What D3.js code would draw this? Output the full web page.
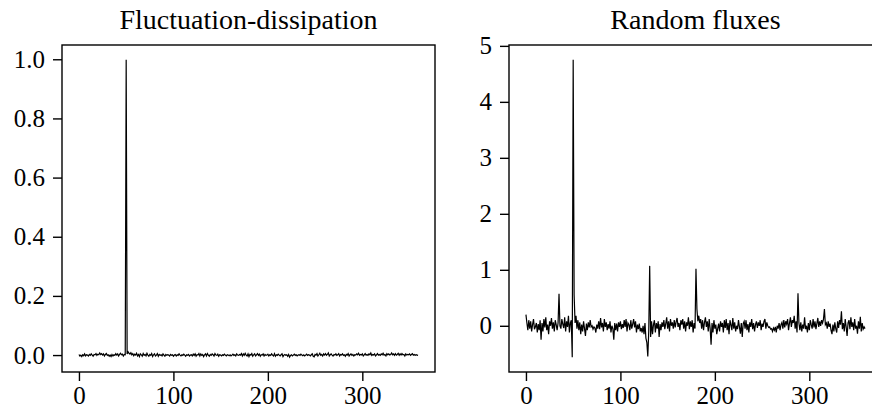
<!DOCTYPE html>
<html>
<head>
<meta charset="utf-8">
<script src="https://cdn.jsdelivr.net/npm/d3@7"></script>
<style>
  html, body { margin: 0; padding: 0; background: #fff; overflow: hidden; }
  svg { display: block; }
  text { font-family: "Liberation Serif", "DejaVu Serif", serif; fill: #000; }
</style>
</head>
<body>
<div id="chart"></div>
<script>
// fluctuation-dissipation response, one value per step (0..359)
var fdValues = [
  0.002, -0.003, 0.000, -0.005, 0.001, -0.002, 0.004, -0.003, 0.001, 0.000,
  -0.003, 0.002, -0.001, 0.004, 0.000, -0.004, 0.002, 0.001, 0.005, -0.001,
  0.003, 0.001, 0.007, 0.002, 0.005, 0.000, 0.004, -0.003, 0.002, 0.005,
  -0.001, 0.001, -0.004, 0.000, -0.005, 0.002, -0.003, 0.001, -0.001, 0.005,
  0.000, 0.004, -0.003, 0.002, 0.006, 0.001, 0.003, -0.003, 0.002, 0.001,
  0.998, 0.004, 0.011, 0.006, 0.003, 0.008, 0.001, 0.005, -0.002, 0.003,
  0.000, 0.006, -0.003, 0.002, -0.005, 0.004, 0.001, -0.004, 0.005, -0.001,
  0.002, -0.003, 0.006, 0.000, -0.004, 0.002, -0.001, 0.005, -0.005, 0.001,
  0.004, -0.003, 0.000, 0.005, -0.004, 0.002, -0.001, 0.001, -0.003, 0.004,
  0.000, -0.004, 0.002, -0.001, 0.001, 0.000, -0.003, 0.002, -0.001, 0.001,
  -0.004, 0.000, 0.002, -0.003, 0.001, -0.001, 0.004, 0.000, -0.003, 0.001,
  -0.001, 0.003, 0.000, -0.004, 0.001, -0.001, 0.002, -0.003, 0.000, 0.001,
  -0.003, 0.003, -0.001, 0.004, -0.004, 0.001, 0.000, 0.005, -0.003, 0.004,
  -0.001, 0.002, -0.005, 0.001, 0.004, -0.003, 0.005, 0.000, -0.004, 0.002,
  -0.001, 0.004, 0.001, -0.003, 0.005, 0.000, -0.001, 0.003, -0.004, 0.001,
  0.000, -0.003, 0.001, -0.001, 0.003, 0.000, -0.003, 0.001, 0.000, -0.002,
  0.001, -0.003, 0.000, 0.003, -0.001, 0.001, -0.003, 0.004, 0.000, -0.001,
  0.002, 0.000, 0.005, -0.003, 0.004, -0.001, 0.006, 0.000, -0.003, 0.004,
  -0.005, 0.002, 0.000, 0.005, -0.004, 0.001, 0.004, -0.003, 0.001, 0.005,
  -0.001, 0.003, -0.004, 0.001, 0.000, 0.004, -0.003, 0.002, -0.001, 0.000,
  0.003, -0.003, 0.001, -0.001, 0.004, 0.000, -0.003, 0.005, -0.004, 0.001,
  -0.001, 0.003, 0.000, -0.003, 0.001, 0.004, -0.005, 0.000, 0.002, -0.001,
  0.001, -0.004, 0.002, -0.007, -0.001, 0.001, -0.003, 0.000, 0.003, -0.001,
  0.001, -0.003, 0.000, 0.001, -0.001, 0.003, 0.000, -0.002, 0.001, -0.003,
  0.000, 0.003, -0.001, 0.001, 0.000, -0.003, 0.001, 0.004, -0.004, -0.006,
  0.002, 0.000, 0.005, -0.003, 0.001, 0.006, -0.001, 0.002, -0.003, 0.004,
  0.000, 0.005, -0.001, 0.002, 0.007, -0.003, 0.001, 0.004, 0.000, -0.003,
  0.002, 0.000, 0.004, -0.001, 0.001, 0.005, -0.003, 0.002, 0.000, 0.004,
  -0.001, 0.001, -0.004, 0.002, 0.000, 0.005, -0.003, 0.001, 0.004, -0.001,
  0.002, -0.003, 0.001, 0.000, 0.004, 0.001, 0.006, -0.001, 0.002, 0.000,
  0.004, -0.003, 0.001, 0.005, 0.000, 0.002, -0.001, 0.004, 0.001, 0.007,
  -0.001, 0.002, 0.000, 0.004, -0.003, 0.001, 0.005, 0.000, 0.002, -0.001,
  0.004, 0.001, 0.006, 0.000, 0.002, -0.003, 0.005, 0.001, 0.004, 0.000,
  0.002, 0.007, 0.001, 0.004, -0.001, 0.005, 0.000, 0.002, 0.006, -0.001,
  0.004, 0.000, 0.005, 0.001, 0.002, -0.003, 0.004, 0.000, 0.002, 0.001,
  0.004, -0.001, 0.002, 0.005, 0.000, 0.002, -0.001, 0.001, 0.000, -0.001
];

// random fluxes response, same steps
var rfValues = [
  0.20, 0.05, -0.08, 0.10, -0.05, 0.08, -0.10, 0.02, 0.12, -0.06,
  -0.02, 0.05, -0.12, 0.03, -0.08, 0.10, -0.25, 0.05, -0.10, 0.12,
  -0.03, 0.15, -0.08, 0.02, -0.15, 0.08, 0.00, 0.14, -0.05, 0.06,
  -0.10, 0.10, 0.02, -0.08, 0.05, 0.57, 0.00, -0.05, 0.12, 0.03,
  -0.04, 0.15, -0.10, 0.08, -0.02, 0.18, -0.12, 0.05, 0.10, -0.56,
  4.75, 0.55, 0.05, 0.18, -0.05, 0.10, -0.08, 0.06, -0.15, 0.02,
  -0.10, 0.08, -0.05, -0.18, 0.04, -0.08, 0.06, -0.03, 0.10, -0.02,
  0.00, -0.06, -0.02, -0.04, -0.12, 0.02, -0.05, 0.08, -0.06, 0.14,
  -0.03, 0.05, -0.10, 0.12, -0.02, 0.06, -0.08, 0.03, -0.05, 0.08,
  -0.12, 0.00, -0.05, -0.25, 0.05, -0.08, 0.04, -0.10, 0.06, -0.02,
  0.08, -0.06, 0.03, -0.04, 0.10, -0.02, 0.12, -0.10, 0.05, 0.02,
  -0.08, 0.10, -0.05, 0.03, 0.12, -0.03, 0.08, -0.12, 0.02, -0.06,
  0.04, -0.10, -0.04, -0.12, 0.00, -0.15, 0.05, -0.22, -0.30, -0.55,
  -0.10, 1.07, -0.20, 0.08, -0.15, 0.02, 0.10, -0.12, 0.05, -0.05,
  0.08, -0.20, 0.03, -0.08, 0.06, -0.02, 0.10, -0.06, 0.04, 0.15,
  -0.05, 0.08, -0.10, 0.12, 0.00, 0.06, -0.05, 0.10, -0.03, 0.07,
  0.14, -0.02, 0.05, -0.08, 0.10, 0.02, 0.12, -0.05, 0.08, -0.10,
  0.06, 0.00, 0.15, -0.06, 0.08, -0.02, 0.10, -0.12, 0.05, -0.05,
  1.02, 0.30, 0.08, 0.18, 0.05, 0.12, -0.05, 0.10, -0.08, 0.06,
  0.15, -0.02, 0.08, -0.10, 0.12, -0.05, -0.34, 0.05, -0.12, 0.10,
  -0.05, 0.02, -0.15, -0.05, 0.04, -0.10, 0.08, -0.02, 0.05, -0.12,
  0.10, -0.04, 0.12, -0.08, 0.05, -0.15, 0.10, 0.02, -0.08, 0.14,
  -0.05, 0.06, -0.10, 0.00, -0.06, 0.10, -0.02, -0.14, 0.05, -0.20,
  0.04, 0.08, -0.05, 0.10, -0.08, 0.03, -0.12, 0.06, -0.02, 0.12,
  -0.06, 0.05, -0.10, 0.02, 0.08, -0.04, 0.06, 0.00, 0.10, -0.08,
  0.04, -0.02, 0.08, 0.12, -0.05, 0.06, 0.00, -0.03, -0.02, -0.06,
  -0.05, -0.10, -0.04, -0.08, -0.02, -0.12, 0.00, -0.05, 0.05, -0.08,
  0.02, 0.06, -0.05, 0.10, -0.03, 0.08, 0.03, 0.12, -0.08, 0.05,
  0.15, -0.02, 0.10, 0.05, 0.18, -0.05, 0.08, -0.12, 0.58, 0.05,
  -0.08, 0.06, -0.10, 0.02, -0.05, 0.15, -0.06, 0.00, -0.12, 0.05,
  -0.08, 0.10, 0.02, -0.05, 0.12, -0.03, 0.08, -0.06, 0.04, 0.14,
  -0.02, 0.08, 0.00, 0.10, 0.05, 0.12, 0.30, 0.02, 0.05, -0.05,
  0.08, -0.02, 0.04, -0.08, -0.15, 0.02, -0.10, 0.06, -0.05, -0.12,
  0.08, -0.04, 0.10, 0.02, 0.26, -0.06, 0.05, -0.10, 0.12, -0.02,
  -0.18, 0.05, 0.10, -0.06, 0.15, -0.02, 0.06, -0.08, 0.12, -0.05,
  0.00, -0.14, 0.08, -0.05, 0.16, -0.10, 0.05, -0.06, -0.02, -0.05
];

var panelTitles = ["Fluctuation-dissipation", "Random fluxes"];
var xTickValues = [0, 100, 200, 300];
var fdTickValues = [0, 0.2, 0.4, 0.6, 0.8, 1.0];
var rfTickValues = [0, 1, 2, 3, 4, 5];

var gWidth = 872;
var gHeight = 414;

var svg = d3.select("#chart")
  .append("svg")
  .attr("width", gWidth)
  .attr("height", gHeight);

// matplotlib style limits: data range plus 5% on each side
function padded(ext) {
  var m = (ext[1] - ext[0]) * 0.05;
  return [ext[0] - m, ext[1] + m];
}

function drawPanel(left, values, title, yTicks, yFormat) {
  var top = 45, bottom = 372, width = 373;
  var steps = values.map(function(v, i) { return i; });

  var x = d3.scaleLinear().domain(padded(d3.extent(steps))).range([left, left + width]);
  var y = d3.scaleLinear().domain(padded(d3.extent(values))).range([bottom, top]);

  var g = svg.append("g");

  var line = d3.line()
    .x(function(d, i) { return x(i); })
    .y(function(d) { return y(d); });

  g.append("path")
    .datum(values)
    .attr("d", line)
    .attr("fill", "none")
    .attr("stroke", "#000")
    .attr("stroke-width", 1.2)
    .attr("stroke-linejoin", "miter");

  var xAxis = g.append("g")
    .attr("transform", "translate(0," + bottom + ")")
    .call(d3.axisBottom(x).tickValues(xTickValues).tickSize(9).tickPadding(5).tickFormat(d3.format("d")));

  var yAxis = g.append("g")
    .attr("transform", "translate(" + left + ",0)")
    .call(d3.axisLeft(y).tickValues(yTicks).tickSize(9).tickPadding(8).tickFormat(yFormat));

  [xAxis, yAxis].forEach(function(a) {
    a.select(".domain").remove();
    a.selectAll(".tick line").attr("stroke", "#000").attr("stroke-width", 1.4);
    a.selectAll(".tick text")
      .style("font-family", "'Liberation Serif', serif")
      .style("font-size", "25px")
      .attr("fill", "#000");
  });

  g.append("rect")
    .attr("x", left)
    .attr("y", top)
    .attr("width", width)
    .attr("height", bottom - top)
    .attr("fill", "none")
    .attr("stroke", "#000")
    .attr("stroke-width", 1.4);

  g.append("text")
    .attr("x", left + width / 2)
    .attr("y", top - 16)
    .attr("text-anchor", "middle")
    .style("font-size", "28px")
    .text(title);
}

drawPanel(62, fdValues, panelTitles[0], fdTickValues, d3.format(".1f"));
drawPanel(509, rfValues, panelTitles[1], rfTickValues, d3.format("d"));
</script>
</body>
</html>
